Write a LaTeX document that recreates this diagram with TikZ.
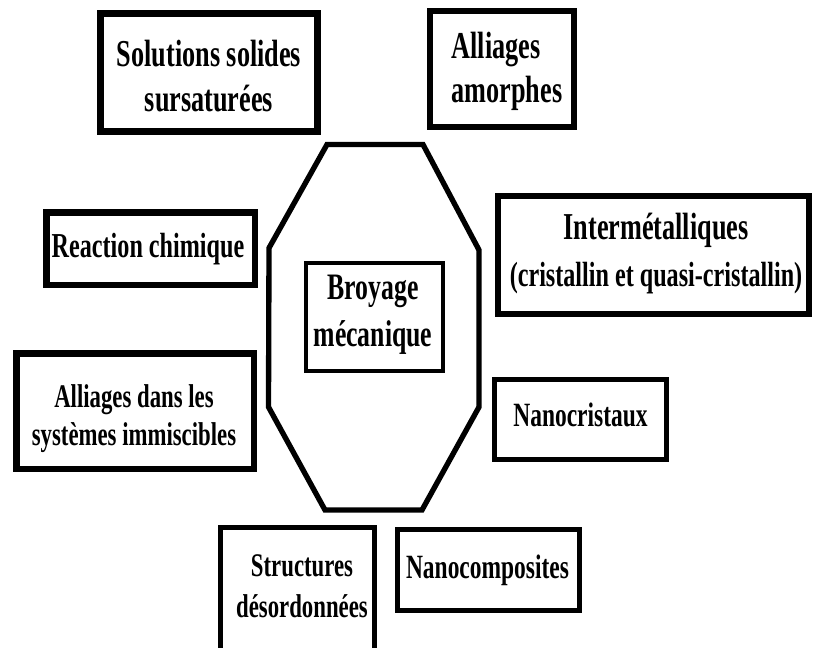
\documentclass[tikz,border=0pt]{standalone}
\usepackage{fontspec}
\newfontfamily\lab{Liberation Serif}[FakeStretch=0.69]
\newcommand\pxfont[2]{\fontsize{#1pt}{#2pt}\selectfont}
\begin{document}
\begin{tikzpicture}[x=0.75pt,y=-0.75pt,
  bx/.style n args={3}{draw=black, rectangle, inner sep=0pt,
    minimum width=#1*0.75pt, minimum height=#2*0.75pt, line width=#3*0.75pt},
  txt/.style={inner sep=0pt, align=center, text=black, font=\lab\bfseries},
  oct/.style={draw=black, line width=4pt, line join=miter}]
\useasboundingbox (0,0) rectangle (813,647);
\clip (0,0) rectangle (813,647);
\fill[white] (0,0) rectangle (813,647);

% central octagon
\coordinate (o1) at (327,144.5);
\coordinate (o2) at (423,144.5);
\coordinate (o3) at (479,250);
\coordinate (o4) at (479,407);
\coordinate (o5) at (422,510);
\coordinate (o6) at (325,510);
\coordinate (o7) at (268.5,407);
\coordinate (o8) at (269,248);
\draw[oct] (o1) -- (o2) -- (o3) -- (o4) -- (o5) -- (o6) -- (o7) -- (o8) -- cycle;

% boxes
\node[bx={217}{118}{7}]     (b1) at (209,72.5) {};
\node[bx={144}{116}{6}]     (b2) at (502,69) {};
\node[bx={311}{118}{6}]     (b3) at (653.5,255) {};
\node[bx={208.5}{72.5}{6.5}] (b4) at (150.5,248.5) {};
\node[bx={237.5}{115.5}{6.5}] (b5) at (135,411) {};
\node[bx={137}{108}{4.5}]   (b0) at (374.5,317) {};
\node[bx={172}{80}{5}]      (b6) at (580.5,419.5) {};
\node[bx={182}{81}{5}]      (b8) at (488.5,570) {};
\node[bx={154}{145}{5}]     (b7) at (297.5,600) {};

% texts
\node[txt, font=\lab\bfseries\pxfont{28.5}{33.75}] (t1) at (209,76.5) {Solutions solides\\sursaturées};
\node[txt, align=left, font=\lab\bfseries\pxfont{28.5}{33}] (t2) at (507,71) {Alliages\\amorphes};
\node[txt, font=\lab\bfseries\pxfont{28.5}{35.25}] (t3) at (656,254) {Intermétalliques\\{\pxfont{26.25}{35.25}(cristallin et quasi-cristallin)}};
\node[txt, font=\lab\bfseries\pxfont{26.25}{31}] (t4) at (148,249) {Reaction chimique};
\node[txt, font=\lab\bfseries\pxfont{24.75}{28.5}] (t5) at (134,418.5) {Alliages dans les\\systèmes immiscibles};
\node[txt, font=\lab\bfseries\pxfont{28}{35.25}] (t0) at (373,315) {Broyage\\mécanique};
\node[txt, font=\lab\bfseries\pxfont{25.5}{30}] (t6) at (580.5,415) {Nanocristaux};
\node[txt, font=\lab\bfseries\pxfont{25.5}{30}] (t8) at (487.5,570) {Nanocomposites};
\node[txt, font=\lab\bfseries\pxfont{24.75}{30.75}] (t7) at (302,586) {Structures\\désordonnées};
\end{tikzpicture}
\end{document}
